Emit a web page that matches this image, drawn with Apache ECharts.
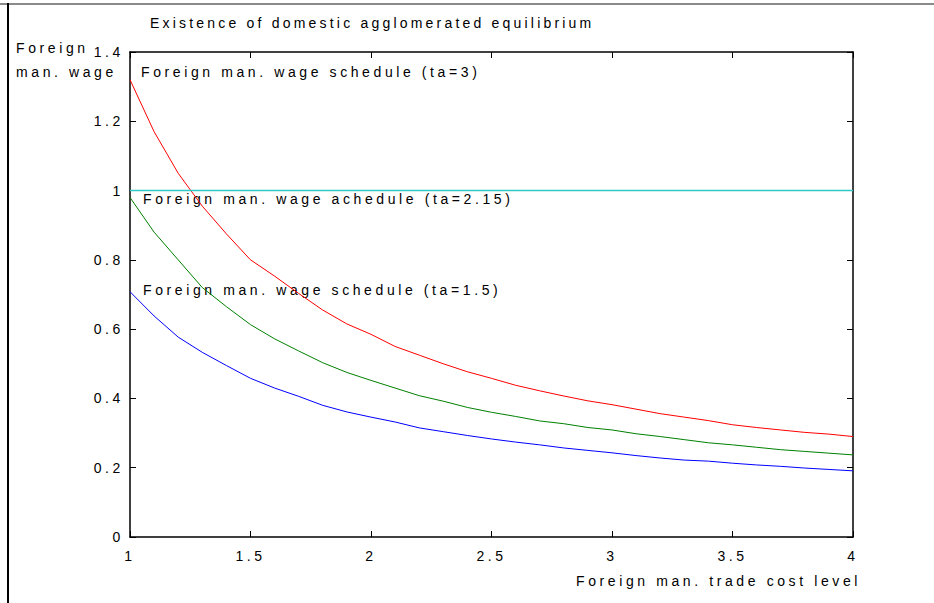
<!DOCTYPE html>
<html><head><meta charset="utf-8">
<script src="https://cdn.jsdelivr.net/npm/echarts@6/dist/echarts.min.js"></script>
<style>
html,body{margin:0;padding:0;background:#fff;overflow:hidden;}
#wrap{position:relative;width:934px;height:603px;}
#chart{position:absolute;left:0;top:0;width:934px;height:603px;}
#chart text{letter-spacing:3.6px;}
#topRule{position:absolute;left:0;top:3px;width:934px;height:2px;background:#8a8a8a;}
#leftRule{position:absolute;left:7px;top:3px;width:2px;height:600px;background:#000;}
</style></head><body><div id="wrap"><div id="chart"></div><div id="topRule"></div><div id="leftRule"></div></div>
<script>
// Trade cost level (x)
const tradeCost = [1.0,1.1,1.2,1.3,1.4,1.5,1.6,1.7,1.8,1.9,2.0,2.1,2.2,2.3,2.4,2.5,2.6,2.7,2.8,2.9,3.0,3.1,3.2,3.3,3.4,3.5,3.6,3.7,3.8,3.9,4.0];
// Foreign man. wage schedule (ta=3)
const wageTa3 = [1.32,1.17,1.05,0.955,0.875,0.80,0.753,0.703,0.655,0.615,0.585,0.550,0.525,0.500,0.477,0.458,0.438,0.422,0.407,0.393,0.382,0.369,0.356,0.346,0.336,0.324,0.316,0.309,0.302,0.297,0.290];
// Foreign man. wage schedule (ta=2.15)
const wageTa215 = [0.98,0.88,0.80,0.72,0.665,0.613,0.572,0.537,0.503,0.475,0.452,0.430,0.408,0.392,0.374,0.360,0.348,0.335,0.327,0.316,0.309,0.298,0.290,0.281,0.272,0.266,0.259,0.252,0.247,0.242,0.237];
// Foreign man. wage schedule (ta=1.5)
const wageTa15 = [0.708,0.638,0.577,0.533,0.495,0.458,0.430,0.406,0.380,0.361,0.346,0.332,0.315,0.304,0.293,0.283,0.274,0.266,0.257,0.250,0.243,0.235,0.228,0.222,0.219,0.213,0.208,0.204,0.199,0.195,0.191];
// Domestic wage reference line
const unitX = [1, 4];
const unitWage = [1, 1];

const titleText = 'Existence of domestic agglomerated equilibrium';
const yNameLines = ['Foreign', 'man. wage'];
const xName = 'Foreign man. trade cost level';
const labelTa3 = 'Foreign man. wage schedule (ta=3)';
const labelTa215 = 'Foreign man. wage achedule (ta=2.15)';
const labelTa15 = 'Foreign man. wage schedule (ta=1.5)';

const FF = "'Liberation Sans', Arial, Helvetica, sans-serif";
const FS = 14;
const pairs = (xs, ys) => xs.map((x, i) => [x, ys[i]]);

const chart = echarts.init(document.getElementById('chart'), null, {renderer: 'svg'});

const axisCommon = {
  type: 'value',
  axisLine: {show: true, onZero: false, lineStyle: {color: '#000', width: 1.5}},
  axisTick: {show: true, inside: true, length: 6, lineStyle: {color: '#000', width: 1}},
  splitLine: {show: false}
};

const txt = (text, x, y, align) => ({
  type: 'text', x: x, y: y, silent: true,
  style: {text: text, fill: '#000', fontSize: FS, fontFamily: FF, textAlign: align || 'left', textVerticalAlign: 'middle'}
});

chart.setOption({
  animation: false,
  backgroundColor: '#fff',
  title: {
    text: titleText, left: 145, top: 11,
    textStyle: {fontSize: 14, fontWeight: 'normal', color: '#000', fontFamily: FF}
  },
  grid: {left: 130, right: 81, top: 52, bottom: 66, containLabel: false, outerBoundsMode: 'none'},
  xAxis: [
    Object.assign({}, axisCommon, {
      min: 1, max: 4, interval: 0.5, position: 'bottom',
      axisLabel: {margin: 12, fontSize: FS, color: '#000', fontFamily: FF}
    }),
    Object.assign({}, axisCommon, {
      min: 1, max: 4, interval: 0.5, position: 'top',
      axisLabel: {show: false}
    })
  ],
  yAxis: [
    Object.assign({}, axisCommon, {
      min: 0, max: 1.4, interval: 0.2, position: 'left',
      axisLabel: {margin: 6, fontSize: FS, color: '#000', fontFamily: FF}
    }),
    Object.assign({}, axisCommon, {
      min: 0, max: 1.4, interval: 0.2, position: 'right',
      axisLabel: {show: false}
    })
  ],
  series: [
    {type: 'line', name: 'ta=3', data: pairs(tradeCost, wageTa3), showSymbol: false, lineStyle: {color: '#ff0000', width: 1}, itemStyle: {color: '#ff0000'}},
    {type: 'line', name: 'ta=2.15', data: pairs(tradeCost, wageTa215), showSymbol: false, lineStyle: {color: '#008000', width: 1}, itemStyle: {color: '#008000'}},
    {type: 'line', name: 'ta=1.5', data: pairs(tradeCost, wageTa15), showSymbol: false, lineStyle: {color: '#0000ff', width: 1}, itemStyle: {color: '#0000ff'}},
    {type: 'line', name: 'unit', data: pairs(unitX, unitWage), showSymbol: false, lineStyle: {color: '#33c8c8', width: 1.5}, itemStyle: {color: '#33c8c8'}}
  ],
  graphic: [
    txt(yNameLines[0], 16, 48),
    txt(yNameLines[1], 16, 72),
    txt(xName, 861, 581, 'right'),
    txt(labelTa3, 141, 72),
    txt(labelTa215, 143, 199),
    txt(labelTa15, 143, 290)
  ]
});
// title uses slightly tighter spacing than the other texts
document.querySelectorAll('#chart text').forEach(function (t) {
  if (t.textContent === titleText) t.style.letterSpacing = '3.2px';
});
</script></body></html>
